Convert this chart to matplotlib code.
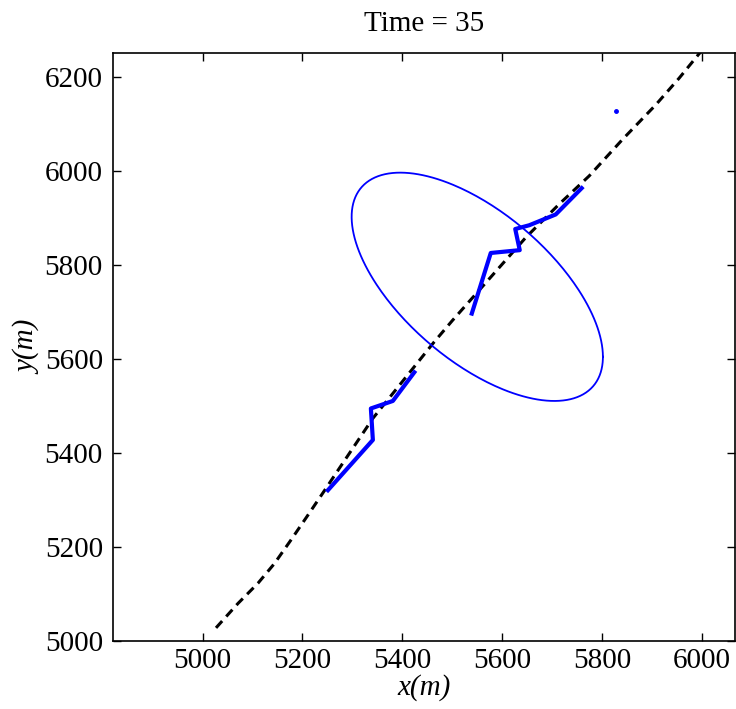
import numpy as np
import matplotlib
matplotlib.use('Agg')
import matplotlib.pyplot as plt

plt.rcParams['font.family'] = ['Liberation Serif', 'DejaVu Serif']

# true trajectory (dashed)
true_x = [5027, 5071, 5111, 5144, 5177, 5211, 5244, 5264, 5341, 5464, 5500, 5648, 5714, 5774, 5841, 5907, 5954, 5994, 6010]
true_y = [5028, 5080, 5123, 5165, 5215, 5268, 5320, 5352, 5474, 5637, 5682, 5860, 5930, 5990, 6068, 6141, 6198, 6250, 6270]

# estimated track, lower piece
trk1_x = [5251, 5341, 5337, 5381, 5424]
trk1_y = [5321, 5428, 5495, 5511, 5572]

# estimated track, upper piece
trk2_x = [5539, 5577, 5635, 5626, 5654, 5707, 5759]
trk2_y = [5697, 5826, 5832, 5877, 5885, 5908, 5964]

# single measurement
meas_x = [5827]
meas_y = [6128]

# uncertainty ellipse: centre and covariance
ell_center = [5550, 5754]
ell_cov = [[63252, -37474], [-37474, 59049]]

fig = plt.figure(figsize=(7.36, 7.09), dpi=100)
ax = fig.add_axes([0.153, 0.0959, 0.8457, 0.8289])

ax.plot(true_x, true_y, 'k--', lw=2.2, dashes=(3, 2))
ax.plot(trk1_x, trk1_y, color='b', lw=3.0)
ax.plot(trk2_x, trk2_y, color='b', lw=3.0)
ax.plot(meas_x, meas_y, '.', color='b', ms=5)

t = np.linspace(0, 2 * np.pi, 300)
L = np.linalg.cholesky(np.array(ell_cov, dtype=float))
pts = L @ np.vstack([np.cos(t), np.sin(t)])
ax.plot(ell_center[0] + pts[0], ell_center[1] + pts[1], color='b', lw=1.3)

ax.set_xlim(4820, 6066)
ax.set_ylim(5000, 6251)
ax.set_xticks([5000, 5200, 5400, 5600, 5800, 6000])
ax.set_yticks([5000, 5200, 5400, 5600, 5800, 6000, 6200])
ax.tick_params(direction='in', top=True, right=True, length=6, width=1, labelsize=21)
ax.tick_params(axis='y', pad=7)
ax.tick_params(axis='x', pad=5)
for s in ax.spines.values():
    s.set_linewidth(1.2)

ax.set_title('Time = 35', fontsize=21, pad=16)
ax.set_xlabel('x(m)', fontsize=21, style='italic', labelpad=0)
ax.set_ylabel('y(m)', fontsize=21, style='italic', labelpad=2)

fig.savefig('out.png', dpi=100)
